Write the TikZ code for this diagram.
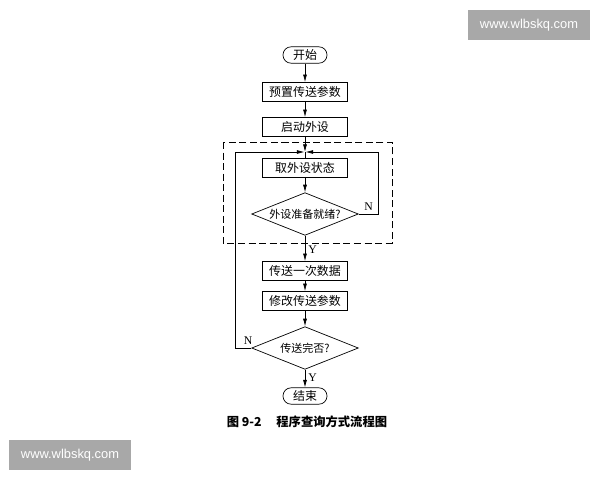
\documentclass[tikz,border=0pt]{standalone}
\usepackage{fontspec}
\setmainfont{Liberation Serif}
\newfontfamily\cjk{Noto Sans CJK SC}
\newfontfamily\wmfont{Liberation Sans}
\usetikzlibrary{shapes.geometric,arrows.meta}
\definecolor{wmgray}{HTML}{A8A8A8}
\begin{document}
\begin{tikzpicture}[x=0.03cm,y=-0.03cm,
  txt/.style={font=\cjk\fontsize{10.2}{12}\selectfont},
  box/.style={txt,draw,line width=0.6pt,minimum width=2.55cm,minimum height=0.57cm,inner sep=0pt},
  term/.style={txt,draw,line width=0.6pt,rounded corners=0.24cm,minimum width=1.32cm,minimum height=0.49cm,inner sep=0pt},
  dec/.style={font=\cjk\fontsize{9.4}{11}\selectfont,draw,line width=0.6pt,diamond,aspect=2.5,minimum width=3.2cm,minimum height=1.28cm,inner sep=0pt},
  arr/.style={-{Latex[length=6.5pt,width=3.4pt]},line width=0.6pt},
  ln/.style={line width=0.6pt},
  lab/.style={font=\fontsize{10}{12}\selectfont,inner sep=2.5pt},
  wm/.style={fill=wmgray,text=white,minimum width=3.66cm,minimum height=0.88cm,inner sep=0pt,font=\wmfont\fontsize{11}{13}\selectfont}
]
\useasboundingbox[fill=white] (0,0) rectangle (600,480);

% watermarks
\node[wm] (wm1) at (529,25) {www.wlbskq.com};
\node[wm] (wm2) at (70,455) {www.wlbskq.com};

% dashed frame
\draw[ln,dash pattern=on 6pt off 3pt] (223,142) rectangle (392,243);

% nodes
\node[term] (s)  at (305,55)  {开始};
\node[box]  (b1) at (305,92)  {预置传送参数};
\node[box]  (b2) at (305,127) {启动外设};
\coordinate (J) at (305,152);
\node[box]  (b3) at (305,168) {取外设状态};
\node[dec]  (d1) at (305,214) {外设准备就绪?};
\node[box]  (b4) at (305,271) {传送一次数据};
\node[box]  (b5) at (305,301) {修改传送参数};
\node[dec]  (d2) at (305,348) {传送完否?};
\node[term] (e)  at (305,396) {结束};

% connectors
\draw[arr] (s) -- (b1);
\draw[arr] (b1) -- (b2);
\draw[arr] (b2) -- (J);
\draw[ln]  (J) -- (b3);
\draw[arr] (b3) -- (d1);
\draw[arr] (d1.south) -- node[lab,right,pos=0.55] {Y} (b4.north);
\draw[arr] (b4) -- (b5);
\draw[arr] (b5) -- (d2);
\draw[arr] (d2.south) -- node[lab,right,pos=0.45] {Y} (e.north);
\draw[arr,shorten >=0.5pt] (d1.east) -- node[lab,above,pos=0.5] {N} ++(20,0) |- (J);
\draw[arr,shorten >=0.5pt] (d2.west) -- node[lab,above,pos=0.2] {N} ++(-16,0) |- (J);

% caption
\node[font=\cjk\bfseries\fontsize{10.5}{12}\selectfont] (cap) at (307,422) {图 9-2\hspace{1.2em}程序查询方式流程图};
\end{tikzpicture}
\end{document}
